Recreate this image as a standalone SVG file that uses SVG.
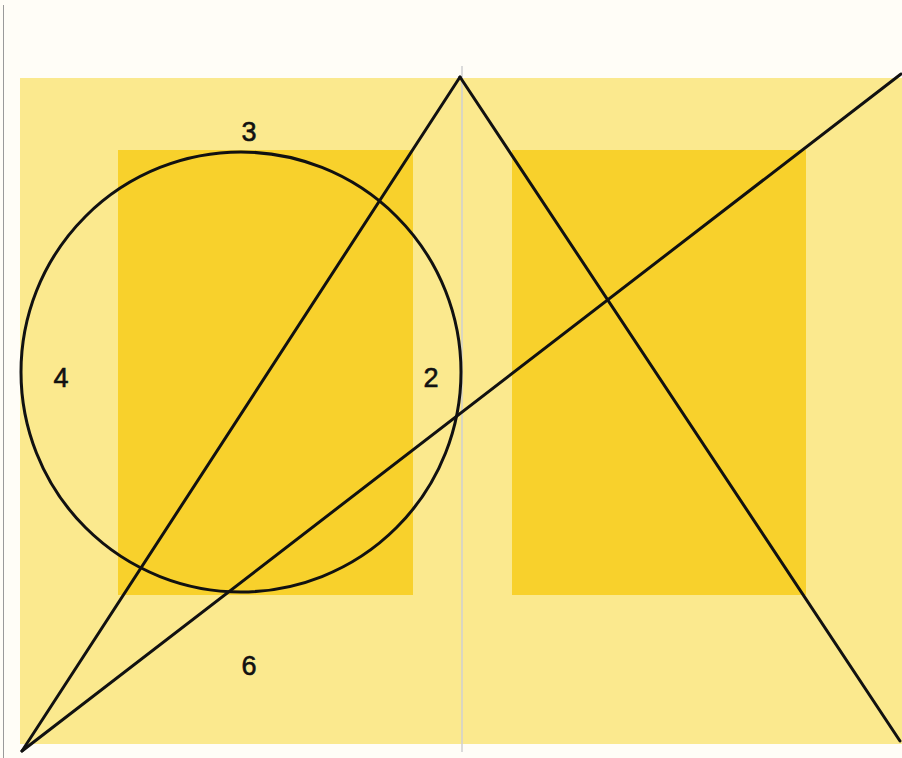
<svg xmlns="http://www.w3.org/2000/svg" width="902" height="758" viewBox="0 0 902 758">
  <style>
    .light { fill: #fbe98e; }
    .dark { fill: #f8d12c; }
    .ink { fill: none; stroke: #111111; stroke-width: 3; stroke-linecap: round; }
    .num { font-family: "Liberation Sans", Arial, sans-serif; font-size: 27px; fill: #111111; stroke: #111111; stroke-width: 0.6; text-anchor: middle; }
  </style>
  <rect x="0" y="0" width="902" height="758" fill="#fffdf7"/>
  <line x1="3.5" y1="5" x2="3.5" y2="758" stroke="#9a9a9a" stroke-width="1"/>
  <g id="page">
    <rect class="light" x="20" y="78" width="882" height="666"/>
    <rect id="left-block" class="dark" x="118" y="150" width="295" height="445"/>
    <rect id="right-block" class="dark" x="512" y="150" width="294" height="445"/>
    <line x1="462" y1="66" x2="462" y2="752" stroke="#cfcfd2" stroke-width="1.5"/>
  </g>
  <g id="connectors">
    <circle class="ink" cx="241" cy="372" r="220"/>
    <line class="ink" x1="22" y1="751" x2="460" y2="77"/>
    <line class="ink" x1="460" y1="77" x2="900" y2="741"/>
    <line class="ink" x1="22" y1="751" x2="901" y2="74"/>
  </g>
  <g id="labels">
    <text class="num" x="249" y="141">3</text>
    <text class="num" x="61" y="387">4</text>
    <text class="num" x="431" y="387">2</text>
    <text class="num" x="249" y="675">6</text>
  </g>
</svg>
